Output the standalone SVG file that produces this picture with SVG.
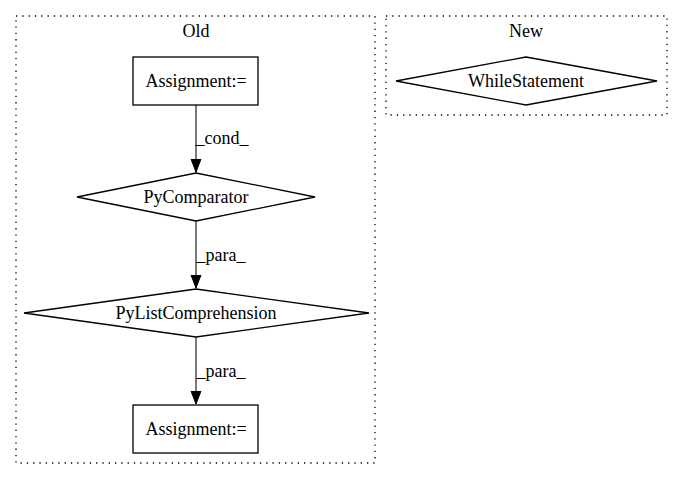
<svg xmlns="http://www.w3.org/2000/svg" width="683" height="480" viewBox="0 0 683 480">
<style>
text{font-family:"Liberation Serif","Times New Roman",serif;font-size:18px;text-anchor:middle;fill:#000}
.cl{fill:none;stroke:#000;stroke-dasharray:1.3,5;stroke-width:1.3}
.n{fill:none;stroke:#000;stroke-width:1.3}
.e{fill:none;stroke:#333;stroke-width:1.3}
</style>
<defs>
<marker id="ah" markerWidth="14" markerHeight="12" refX="13" refY="6" orient="auto" markerUnits="userSpaceOnUse">
<path d="M0,1 L13,6 L0,11 Z" fill="#000" stroke="#000"/>
</marker>
</defs>
<rect width="683" height="480" fill="#fff"/>
<g id="cluster_old">
<rect class="cl" x="16" y="16" width="359" height="447"/>
<text x="196" y="37">Old</text>
</g>
<g id="cluster_new">
<rect class="cl" x="386" y="16" width="281" height="99"/>
<text x="526" y="37">New</text>
</g>
<g id="connectors">
<path class="e" d="M196,105 V172" marker-end="url(#ah)"/>
<text x="222" y="144">_cond_</text>
<path class="e" d="M196,221 V288" marker-end="url(#ah)"/>
<text x="221" y="261">_para_</text>
<path class="e" d="M196,337 V404" marker-end="url(#ah)"/>
<text x="221" y="377">_para_</text>
</g>
<g id="assign1">
<rect class="n" x="133" y="57" width="125" height="48"/>
<text x="196" y="87">Assignment:=</text>
</g>
<g id="pycomparator">
<polygon class="n" points="196,173 315,197 196,221 77,197"/>
<text x="196" y="203">PyComparator</text>
</g>
<g id="pylistcomp">
<polygon class="n" points="196,289 369,313 196,337 24,313"/>
<text x="196" y="319">PyListComprehension</text>
</g>
<g id="assign2">
<rect class="n" x="133" y="405" width="125" height="48"/>
<text x="196" y="435">Assignment:=</text>
</g>
<g id="whilestatement">
<polygon class="n" points="526,57 657,81 526,105 396,81"/>
<text x="526" y="87">WhileStatement</text>
</g>
</svg>
